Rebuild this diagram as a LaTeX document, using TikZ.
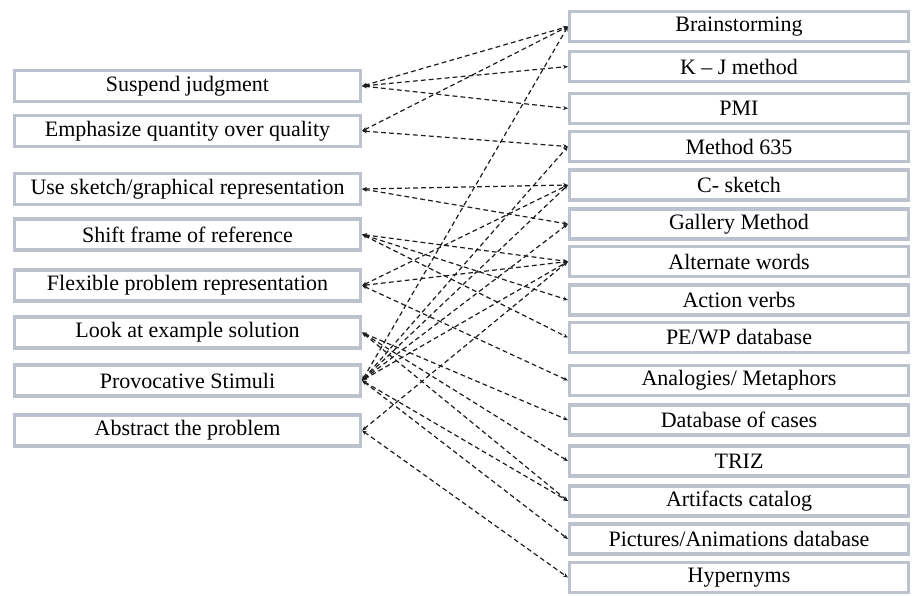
\documentclass[tikz,border=0pt]{standalone}
\usepackage{fontspec}
\setmainfont{Liberation Serif}
\usetikzlibrary{arrows.meta}
\definecolor{boxgray}{RGB}{188,195,207}
\definecolor{linkgray}{RGB}{30,30,30}

\begin{document}
\begin{tikzpicture}[x=0.5pt, y=-0.5pt]
    \tikzstyle{leftbox}=[draw=boxgray, line width=1.6pt, minimum width=173pt, minimum height=15.5pt, inner sep=0pt, rectangle, font=\fontsize{11}{13}\selectfont]
    \tikzstyle{rightbox}=[draw=boxgray, line width=1.6pt, minimum width=169.5pt, minimum height=15pt, inner sep=0pt, rectangle, font=\fontsize{11}{13}\selectfont]
    \tikzstyle{link}=[draw=linkgray, line width=0.6pt, dash pattern=on 2.4pt off 1.6pt, {Stealth[length=2.4pt,width=2pt]}-{Stealth[length=2.4pt,width=2pt]}]

    \useasboundingbox (0,0) rectangle (913,595);

    % principles
    \node[leftbox] (judge) at (187.5, 86) {Suspend judgment};
    \node[leftbox] (quantity) at (187.5, 131) {Emphasize quantity over quality};
    \node[leftbox] (sketch) at (187.5, 189) {Use sketch/graphical representation};
    \node[leftbox] (shift) at (187.5, 234.5) {Shift frame of reference};
    \node[leftbox] (flexible) at (187.5, 285.5) {Flexible problem representation};
    \node[leftbox] (example) at (187.5, 332.5) {Look at example solution};
    \node[leftbox] (stimuli) at (187.5, 380.5) {Provocative Stimuli};
    \node[leftbox] (abstract) at (187.5, 430.5) {Abstract the problem};

    % methods
    \node[rightbox] (brainstorm) at (739, 26.5) {Brainstorming};
    \node[rightbox] (kjmethod) at (739, 66.5) {K -- J method};
    \node[rightbox] (pmi) at (739, 108.5) {PMI};
    \node[rightbox] (method) at (739, 146.5) {Method 635};
    \node[rightbox] (csketch) at (739, 185) {C- sketch};
    \node[rightbox] (gallery) at (739, 224) {Gallery Method};
    \node[rightbox] (altwords) at (739, 261.5) {Alternate words};
    \node[rightbox] (verbs) at (739, 300) {Action verbs};
    \node[rightbox] (pewp) at (739, 337.5) {PE/WP database};
    \node[rightbox] (analogies) at (739, 380.5) {Analogies/ Metaphors};
    \node[rightbox] (cases) at (739, 420) {Database of cases};
    \node[rightbox] (triz) at (739, 461) {TRIZ};
    \node[rightbox] (artifacts) at (739, 501) {Artifacts catalog};
    \node[rightbox] (pictures) at (739, 539) {Pictures/Animations database};
    \node[rightbox] (hypernyms) at (739, 577.5) {Hypernyms};

    % links
    \draw[link] (judge.east) -- (brainstorm.west);
    \draw[link] (judge.east) -- (kjmethod.west);
    \draw[link] (judge.east) -- (pmi.west);
    \draw[link] (quantity.east) -- (brainstorm.west);
    \draw[link] (quantity.east) -- (method.west);
    \draw[link] (sketch.east) -- (csketch.west);
    \draw[link] (sketch.east) -- (gallery.west);
    \draw[link] (shift.east) -- (altwords.west);
    \draw[link] (shift.east) -- (verbs.west);
    \draw[link] (shift.east) -- (pewp.west);
    \draw[link] (flexible.east) -- (csketch.west);
    \draw[link] (flexible.east) -- (altwords.west);
    \draw[link] (flexible.east) -- (analogies.west);
    \draw[link] (example.east) -- (cases.west);
    \draw[link] (example.east) -- (triz.west);
    \draw[link] (example.east) -- (artifacts.west);
    \draw[link] (stimuli.east) -- (brainstorm.west);
    \draw[link] (stimuli.east) -- (method.west);
    \draw[link] (stimuli.east) -- (csketch.west);
    \draw[link] (stimuli.east) -- (gallery.west);
    \draw[link] (stimuli.east) -- (altwords.west);
    \draw[link] (stimuli.east) -- (artifacts.west);
    \draw[link] (stimuli.east) -- (pictures.west);
    \draw[link] (abstract.east) -- (altwords.west);
    \draw[link] (abstract.east) -- (hypernyms.west);
\end{tikzpicture}
\end{document}
